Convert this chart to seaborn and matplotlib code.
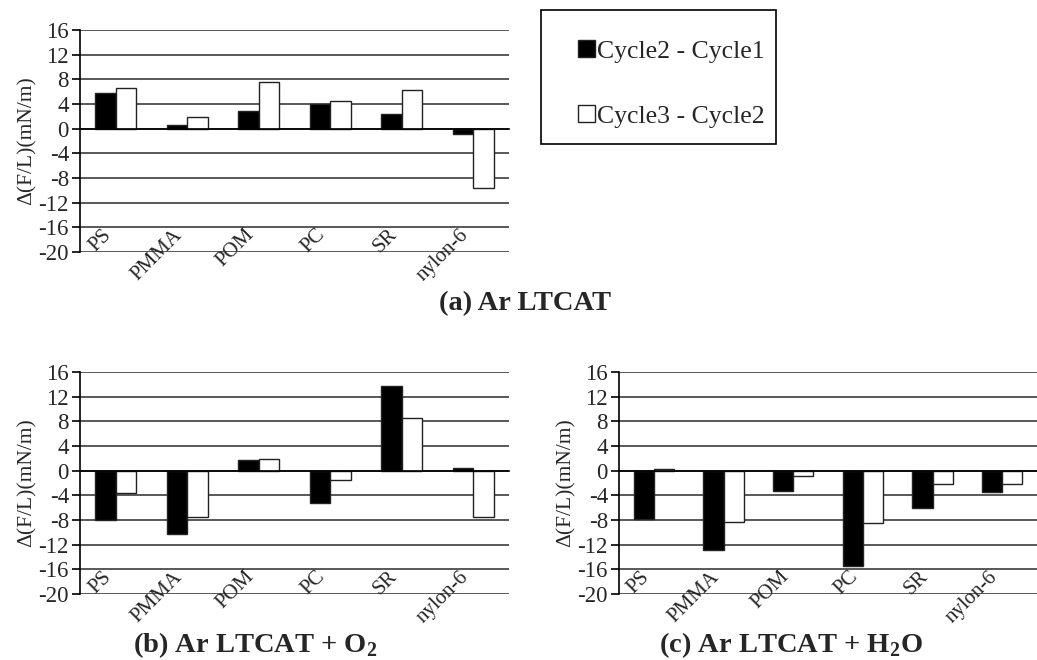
import matplotlib
matplotlib.use("Agg")
import matplotlib.pyplot as plt
import matplotlib.patches as mpatches
import numpy as np
import pandas as pd
import seaborn as sns

sns.set_theme(style="white")
plt.rcParams["font.family"] = ["Liberation Serif", "DejaVu Serif"]
plt.rcParams["mathtext.fontset"] = "custom"
plt.rcParams["mathtext.rm"] = "Liberation Serif"
plt.rcParams["mathtext.bf"] = "Liberation Serif:bold"

# Polymers and the two cycle-to-cycle differences, Δ(F/L) in mN/m
polymers = ["PS", "PMMA", "POM", "PC", "SR", "nylon-6"]
series_names = ["Cycle2 - Cycle1", "Cycle3 - Cycle2"]

ar_c21 = [5.8, 0.6, 2.9, 4.0, 2.4, -0.8]
ar_c32 = [6.6, 1.9, 7.6, 4.5, 6.3, -9.7]

o2_c21 = [-8.0, -10.3, 1.8, -5.2, 13.8, 0.5]
o2_c32 = [-3.7, -7.5, 1.9, -1.5, 8.6, -7.5]

h2o_c21 = [-7.9, -12.8, -3.3, -15.5, -6.1, -3.4]
h2o_c32 = [0.2, -8.3, -0.9, -8.5, -2.2, -2.2]

panel_titles = [r"(a) Ar LTCAT",
                r"(b) Ar LTCAT + O$_\mathbf{2}$",
                r"(c) Ar LTCAT + H$_\mathbf{2}$O"]
y_ticks = list(range(-20, 17, 4))
ylabel = "Δ(F/L)(mN/m)"

W, H = 1037, 660
fig = plt.figure(figsize=(W / 100, H / 100), dpi=100)


def px_axes(x0, y0, x1, y1):
    return fig.add_axes([x0 / W, 1 - y1 / H, (x1 - x0) / W, (y1 - y0) / H])


def draw_panel(ax, c21, c32):
    df = pd.DataFrame({
        "polymer": polymers * 2,
        "series": [series_names[0]] * len(polymers) + [series_names[1]] * len(polymers),
        "value": list(c21) + list(c32),
    })
    sns.barplot(data=df, x="polymer", y="value", hue="series", order=polymers,
                hue_order=series_names, palette=["black", "white"],
                width=0.58, edgecolor="#222222", linewidth=1.0,
                saturation=1, ax=ax, legend=False, zorder=3)
    n = len(polymers)
    ax.set_xlim(-0.5, n - 0.5)
    ax.set_ylim(-20, 16)
    ax.set_yticks(y_ticks)
    ax.set_yticklabels([str(t) for t in y_ticks], fontsize=16.5)
    for t in y_ticks:
        ax.axhline(t, color="#2b2b2b", lw=1.1, zorder=1)
    # the category axis sits on the zero line, with tick marks between groups
    ax.spines["bottom"].set_position(("data", 0))
    ax.spines["bottom"].set_color("black")
    ax.spines["bottom"].set_linewidth(1.2)
    ax.spines["bottom"].set_zorder(4)
    ax.spines["top"].set_visible(False)
    ax.spines["right"].set_visible(False)
    ax.spines["left"].set_color("black")
    ax.spines["left"].set_linewidth(1.2)
    ax.set_xticks(np.arange(0.5, n, 1.0))
    ax.set_xticklabels([])
    ax.tick_params(axis="x", direction="out", length=7, width=1.2, color="black")
    ax.tick_params(axis="y", direction="out", length=6, width=1.2, color="black",
                   pad=2, left=True)
    ax.set_xlabel("")
    ax.set_ylabel(ylabel, fontsize=15.5, labelpad=1)
    for i, name in enumerate(polymers):
        ax.text(i - 0.2, -15.7, name, rotation=45, rotation_mode="anchor",
                ha="right", va="top", fontsize=15, zorder=5)
    ax.set_facecolor("white")


ax_a = px_axes(80, 30, 509, 252)
ax_b = px_axes(80, 372, 509, 594)
ax_c = px_axes(619, 372, 1037, 594)

draw_panel(ax_a, ar_c21, ar_c32)
draw_panel(ax_b, o2_c21, o2_c32)
draw_panel(ax_c, h2o_c21, h2o_c32)

fig.text(525 / W, 1 - 304 / H, panel_titles[0], ha="center", va="center",
         fontsize=20.5, fontweight="bold")
fig.text(255 / W, 1 - 645 / H, panel_titles[1], ha="center", va="center",
         fontsize=20.5, fontweight="bold")
fig.text(791 / W, 1 - 645 / H, panel_titles[2], ha="center", va="center",
         fontsize=20.5, fontweight="bold")

# legend frame and entries
frame = mpatches.Rectangle((541 / W, 1 - 144 / H), 235 / W, 134 / H,
                           transform=fig.transFigure, fill=False,
                           edgecolor="black", lw=1.2)
fig.patches.append(frame)
handles = [mpatches.Patch(facecolor="black", edgecolor="#222222", lw=1.0),
           mpatches.Patch(facecolor="white", edgecolor="#222222", lw=1.0)]
fig.legend(handles, series_names, loc="center left",
           bbox_to_anchor=(578 / W, 1 - 84 / H), frameon=False,
           fontsize=18.5, handlelength=0.65, handleheight=0.65,
           handletextpad=0.1, labelspacing=1.65, borderpad=0,
           borderaxespad=0)

fig.savefig("out.png", dpi=100, facecolor="white")
